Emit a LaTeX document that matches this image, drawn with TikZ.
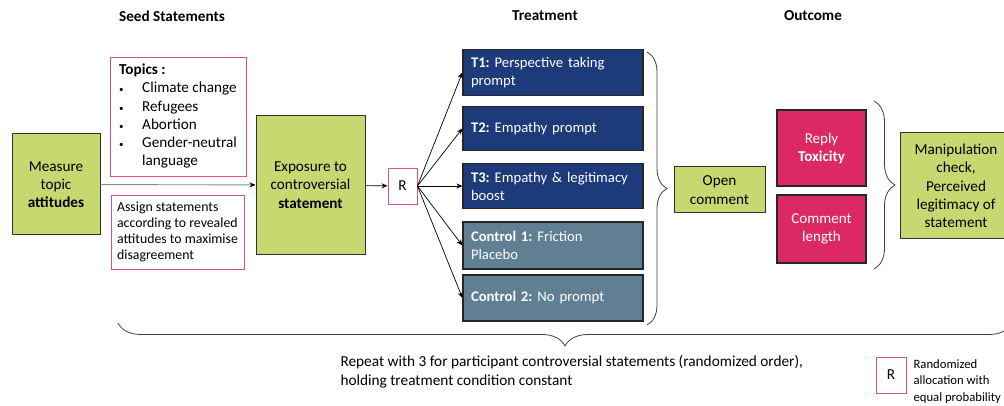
\documentclass[tikz,border=0pt]{standalone}
\usepackage{fontspec}
\setmainfont{Carlito}
\usepackage{xcolor}
\usepackage{tikz}
\usetikzlibrary{arrows.meta,decorations.pathreplacing}

\definecolor{stagegreen}{HTML}{C6D870}
\definecolor{treatblue}{HTML}{1D3A7B}
\definecolor{ctrlslate}{HTML}{607F93}
\definecolor{outcrimson}{HTML}{DC2863}
\definecolor{randpink}{HTML}{E0507F}

\begin{document}
\frenchspacing
\begin{tikzpicture}[x=1pt, y=-1pt,
    every node/.style={font=\frenchspacing\fontsize{15.2}{18.3}\selectfont},
    heading/.style={font=\bfseries\fontsize{15.2}{17}\selectfont},
    stage/.style={draw=black!80, line width=1pt, fill=stagegreen, align=center, inner sep=2pt},
    randbox/.style={draw=randpink, line width=0.9pt, fill=white, inner sep=2pt},
    treat/.style={draw=black!85, line width=1.2pt, fill=treatblue, text=white, align=left,
        inner sep=8pt, text width=164, minimum height=44, font=\frenchspacing\fontsize{14.7}{18}\selectfont},
    ctrl/.style={treat, fill=ctrlslate},
    outc/.style={draw=black!85, line width=1.1pt, fill=outcrimson, text=white, align=center,
        minimum width=89, font=\fontsize{15}{18}\selectfont},
    link/.style={line width=0.7pt, -{Stealth[length=6pt, width=5pt]}},
    bracket/.style={draw=black!75, line width=0.8pt, decorate}]
    \useasboundingbox (0,0) rectangle (1004,406);
    % Headings
    \node[heading] (seedhead)  at (172,16) {Seed Statements};
    \node[heading] (treathead) at (545,16) {Treatment};
    \node[heading] (outhead)   at (813,16) {Outcome};
    % Seed statements
    \node[stage, minimum width=88, minimum height=101] (measure) at (56,184.5) {Measure\\topic\\\textbf{attitudes}};
    \node[randbox, minimum width=136, minimum height=119] (topics) at (178,116.5) {%
        \begin{tabular}{@{}p{23pt}@{}l@{}}
        \multicolumn{2}{@{}l@{}}{\textbf{Topics :}}\\
        {\small\textbullet} & Climate change\\
        {\small\textbullet} & Refugees\\
        {\small\textbullet} & Abortion\\
        {\small\textbullet} & Gender-neutral\\
                    & language
        \end{tabular}};
    \node[randbox, minimum width=133, minimum height=74, align=left, font=\fontsize{13.8}{15.8}\selectfont] (assign) at (177.5,232)
        {Assign statements\\according to revealed\\attitudes to maximise\\disagreement};
    \node[stage, minimum width=109, minimum height=138] (exposure) at (310.5,185) {Exposure to\\controversial\\\textbf{statement}};
    \node[randbox, minimum width=29, minimum height=36] (rand) at (402.5,186) {R};
    % Treatments
    \node[treat] (t1) at (553,72.5)  {\textbf{T1:} Perspective taking\\prompt};
    \node[treat] (t2) at (553,128.5) {\textbf{T2:} Empathy prompt};
    \node[treat] (t3) at (553,186)   {\textbf{T3:} Empathy \& legitimacy\\boost};
    \node[ctrl, minimum height=47] (c1) at (553,245.5) {\textbf{Control 1:} Friction\\Placebo};
    \node[ctrl, minimum height=46] (c2) at (553,298)   {\textbf{Control 2:} No prompt};
    % Outcomes
    \node[stage, minimum width=91, minimum height=46] (open) at (719.5,190) {Open\\comment};
    \node[outc, minimum height=76] (reply) at (821.5,148) {Reply\\\textbf{Toxicity}};
    \node[outc, minimum height=68] (length) at (821.5,229) {Comment\\length};
    \node[stage, minimum width=112, minimum height=106] (manip) at (956,186) {Manipulation\\check,\\Perceived\\legitimacy of\\statement};
    % Legend and note
    \node[randbox, minimum width=30, minimum height=36] (legendr) at (891,375) {R};
    \node[anchor=west, align=left, font=\fontsize{12.7}{16.5}\selectfont] (legendtxt) at (910,381.5)
        {Randomized\\allocation with\\equal probability};
    \node[anchor=west, align=left, font=\fontsize{15.3}{19}\selectfont] (repeat) at (337,371.5)
        {Repeat with 3 for participant controversial statements (randomized order),\\holding treatment condition constant};
    % Connectors
    \draw[link, draw=black!45, line width=0.9pt, -{Stealth[length=6pt, width=5pt, color=black]}] (measure) -- (exposure);
    \draw[link] (exposure) -- (rand);
    \foreach \arm in {t1,t2,t3,c1,c2}
        \draw[link] (rand.east) -- (\arm.west);
    % Braces
    \draw[bracket, decoration={brace, amplitude=20}] (647,52) -- (647,325);
    \draw[bracket, decoration={brace, amplitude=21}] (874,101) -- (874,269);
    \draw[bracket, decoration={brace, amplitude=23}] (1012,323) -- (118,323);
\end{tikzpicture}
\end{document}
